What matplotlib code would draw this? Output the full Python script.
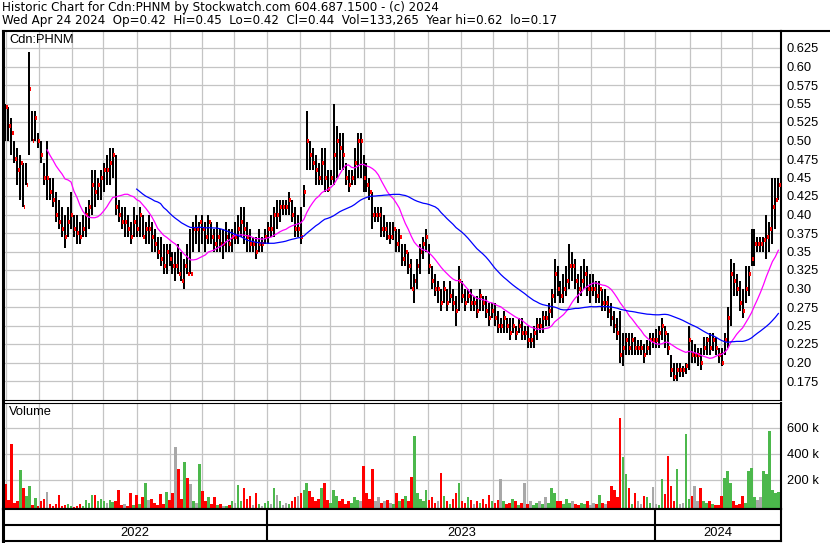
import numpy as np
import pandas as pd
import matplotlib
matplotlib.use("Agg")
import matplotlib.pyplot as plt
from matplotlib.lines import Line2D

plt.rcParams['font.family'] = ['Liberation Sans', 'DejaVu Sans']

# chart window (one sample every second trading day)
start_date = '2022-04-26'
end_date = '2024-04-24'

high = [
    .55, .545, .53, .50, .49, .48, .47, .47, .62, .54,
    .54, .51, .50, .47, .50, .45, .45, .43, .42, .41,
    .40, .41, .43, .40, .40, .39, .40, .41, .42, .46,
    .46, .45, .46, .47, .48, .49, .49, .48, .42, .41,
    .41, .40, .39, .41, .40, .41, .40, .39, .40, .39,
    .38, .37, .37, .36, .36, .36, .35, .35, .36, .35,
    .34, .36, .38, .39, .40, .39, .40, .39, .40, .39,
    .38, .39, .38, .38, .39, .38, .38, .39, .40, .41,
    .41, .39, .38, .37, .37, .38, .37, .38, .39, .40,
    .41, .42, .42, .42, .42, .43, .42, .41, .40, .41,
    .44, .54, .50, .49, .48, .47, .49, .49, .46, .46,
    .55, .52, .51, .51, .47, .46, .46, .49, .51, .51,
    .48, .47, .45, .43, .41, .41, .41, .40, .39, .39,
    .39, .38, .38, .36, .36, .35, .34, .32, .34, .36,
    .37, .38, .36, .33, .32, .31, .30, .31, .30, .31,
    .30, .29, .33, .31, .30, .30, .30, .29, .29, .30,
    .29, .29, .28, .28, .28, .27, .26, .27, .26, .26,
    .26, .25, .26, .26, .25, .25, .24, .25, .26, .26,
    .27, .27, .28, .30, .34, .33, .31, .32, .33, .36,
    .35, .34, .32, .33, .34, .33, .32, .32, .31, .31,
    .30, .30, .29, .28, .27, .26, .27, .24, .24, .24,
    .24, .235, .23, .23, .225, .23, .24, .24, .245, .25,
    .26, .25, .24, .21, .20, .20, .20, .195, .20, .25,
    .23, .225, .22, .22, .235, .235, .24, .24, .235, .22,
    .22, .24, .275, .34, .335, .32, .31, .30, .33, .33,
    .38, .38, .37, .37, .37, .40, .39, .45, .45, .45,
]
low = [
    .50, .50, .48, .47, .44, .42, .41, .44, .48, .50,
    .50, .49, .47, .44, .42, .42, .41, .39, .38, .37,
    .355, .37, .38, .37, .36, .36, .37, .37, .38, .40,
    .41, .42, .42, .43, .44, .44, .45, .40, .39, .38,
    .37, .37, .36, .37, .37, .37, .37, .36, .36, .35,
    .35, .34, .33, .32, .32, .33, .32, .31, .32, .31,
    .30, .32, .32, .35, .36, .35, .36, .35, .36, .36,
    .35, .35, .35, .34, .35, .35, .35, .36, .36, .37,
    .36, .35, .35, .35, .34, .35, .35, .36, .36, .37,
    .37, .38, .39, .40, .40, .40, .39, .37, .37, .36,
    .41, .46, .46, .46, .44, .44, .44, .43, .43, .44,
    .44, .45, .46, .46, .44, .43, .44, .44, .45, .45,
    .43, .43, .42, .38, .39, .39, .37, .37, .365, .36,
    .365, .35, .35, .33, .33, .32, .30, .28, .30, .32,
    .34, .35, .32, .30, .29, .28, .27, .28, .27, .28,
    .27, .25, .27, .28, .27, .28, .27, .27, .26, .27,
    .27, .26, .25, .26, .25, .24, .24, .24, .24, .23,
    .24, .23, .24, .23, .23, .22, .22, .22, .23, .24,
    .24, .25, .25, .26, .28, .29, .28, .28, .29, .30,
    .31, .30, .28, .29, .30, .29, .28, .29, .28, .28,
    .27, .27, .26, .25, .24, .23, .20, .195, .21, .21,
    .21, .21, .21, .21, .20, .21, .21, .22, .22, .22,
    .23, .22, .21, .18, .175, .175, .18, .18, .185, .19,
    .20, .20, .195, .19, .21, .21, .21, .215, .21, .20,
    .195, .21, .22, .25, .29, .29, .27, .26, .28, .29,
    .33, .33, .35, .35, .35, .34, .35, .36, .38, .42,
]
close = [
    .545, .52, .51, .475, .46, .47, .41, .44, .57, .50,
    .53, .50, .48, .45, .45, .43, .42, .40, .39, .38,
    .37, .39, .40, .38, .375, .37, .38, .40, .41, .44,
    .43, .44, .45, .46, .46, .47, .48, .41, .40, .39,
    .39, .38, .37, .39, .38, .40, .37, .38, .38, .37,
    .36, .35, .34, .33, .35, .34, .33, .33, .32, .31,
    .33, .32, .32, .38, .38, .39, .38, .37, .39, .37,
    .36, .37, .36, .36, .37, .36, .37, .37, .38, .39,
    .38, .37, .36, .36, .35, .36, .36, .37, .38, .38,
    .40, .40, .41, .41, .41, .42, .40, .38, .38, .37,
    .43, .50, .48, .47, .46, .45, .47, .45, .435, .45,
    .48, .50, .49, .48, .45, .44, .45, .47, .50, .50,
    .45, .44, .43, .40, .40, .40, .38, .38, .37, .37,
    .38, .36, .37, .34, .35, .33, .30, .31, .33, .35,
    .36, .37, .33, .31, .30, .30, .28, .30, .28, .29,
    .28, .27, .31, .29, .28, .29, .28, .28, .27, .29,
    .28, .27, .26, .27, .26, .25, .25, .26, .25, .24,
    .25, .24, .25, .24, .24, .23, .23, .24, .25, .25,
    .26, .26, .27, .29, .32, .30, .29, .30, .31, .33,
    .33, .31, .30, .31, .32, .30, .30, .30, .29, .30,
    .28, .28, .27, .26, .25, .24, .21, .22, .23, .22,
    .23, .22, .22, .22, .21, .22, .23, .23, .23, .24,
    .25, .24, .22, .19, .18, .19, .19, .19, .195, .23,
    .21, .21, .21, .20, .22, .23, .22, .23, .22, .21,
    .20, .23, .26, .32, .31, .30, .28, .27, .30, .32,
    .34, .36, .36, .36, .365, .37, .38, .41, .42, .44,
]
# volume in thousands of shares
volume = [
    195, 70, 500, 50, 60, 300, 165, 100, 180, 30,
    85, 20, 60, 80, 130, 40, 20, 35, 110, 25,
    30, 40, 25, 15, 20, 40, 25, 70, 50, 110,
    110, 60, 80, 60, 50, 70, 55, 60, 150, 30,
    40, 20, 125, 30, 105, 40, 90, 200, 70, 80,
    50, 30, 115, 40, 130, 70, 125, 480, 305, 80,
    360, 235, 195, 60, 50, 345, 140, 60, 95, 40,
    95, 30, 40, 20, 25, 30, 60, 50, 185, 60,
    160, 80, 100, 30, 120, 40, 20, 50, 60, 40,
    165, 110, 60, 30, 50, 40, 60, 90, 100, 120,
    150, 200, 140, 90, 60, 80, 160, 200, 70, 50,
    150, 100, 60, 80, 40, 60, 50, 90, 70, 60,
    330, 120, 80, 310, 60, 90, 50, 60, 70, 50,
    40, 120, 60, 80, 100, 60, 250, 560, 120, 80,
    60, 150, 70, 90, 50, 60, 280, 100, 60, 40,
    80, 120, 200, 60, 50, 90, 70, 40, 60, 50,
    80, 40, 110, 60, 50, 70, 230, 60, 40, 50,
    80, 60, 30, 50, 200, 40, 60, 30, 50, 60,
    40, 90, 50, 160, 120, 60, 60, 40, 80, 50,
    60, 40, 30, 50, 40, 60, 30, 50, 40, 110,
    50, 40, 60, 180, 150, 95, 700, 400, 270, 160,
    40, 120, 60, 40, 100, 90, 50, 170, 40, 30,
    230, 115, 410, 180, 60, 310, 40, 50, 580, 80,
    100, 180, 60, 160, 60, 50, 60, 40, 30, 30,
    100, 235, 290, 200, 60, 30, 40, 100, 50, 295,
    315, 90, 70, 90, 295, 270, 600, 150, 120, 133,
]

price_ticks = [0.175, 0.20, 0.225, 0.25, 0.275, 0.30, 0.325, 0.35, 0.375, 0.40,
               0.425, 0.45, 0.475, 0.50, 0.525, 0.55, 0.575, 0.60, 0.625]
vol_ticks = [200, 400, 600]
years = ['2022', '2023', '2024']

title1 = "Historic Chart for Cdn:PHNM by Stockwatch.com 604.687.1500 - (c) 2024"
title2 = "Wed Apr 24 2024  Op=0.42  Hi=0.45  Lo=0.42  Cl=0.44  Vol=133,265  Year hi=0.62  lo=0.17"

W, H = 830, 543
fig = plt.figure(figsize=(W / 100, H / 100), dpi=100)
fig.patch.set_facecolor('white')


def px_rect(x0, y0, x1, y1):
    return [x0 / W, 1 - y1 / H, (x1 - x0) / W, (y1 - y0) / H]


def px_line(x0, y0, x1, y1, lw):
    fig.add_artist(Line2D([x0 / W, x1 / W], [1 - y0 / H, 1 - y1 / H],
                          transform=fig.transFigure, color='black', lw=lw))


days = pd.bdate_range(start_date, end_date)
n_days = len(days)
N = len(close)
pos = np.arange(n_days - 1 - 2 * (N - 1), n_days, 2)

i23 = int(np.argmax(days >= pd.Timestamp('2023-01-01')))
i24 = int(np.argmax(days >= pd.Timestamp('2024-01-01')))
b = (656 - 268) / (i24 - i23)
a = 268 - b * i23
xlim = ((3 - a) / b, (781 - a) / b)
month_idx = [i for i in range(1, n_days) if days[i].month != days[i - 1].month]
year_idx = [xlim[0], i23 - 0.5, i24 - 0.5, xlim[1]]

grid_col = '#c4c4c4'

# ---- price panel
ax = fig.add_axes(px_rect(3, 31, 781, 400))
ax.set_xlim(*xlim)
ax.set_ylim(0.175 - 19 / 740, 0.625 + 17 / 740)
for m in month_idx:
    ax.axvline(m - 0.5, color=grid_col, lw=0.9, zorder=0)
for t in price_ticks:
    ax.axhline(t, color=grid_col, lw=0.9, zorder=0)

ax.vlines(pos, low, high, color='black', lw=1.3, antialiased=False, zorder=2)
ax.hlines(close, pos + 0.2, pos + 1.5, color='red', lw=1.6, antialiased=False, zorder=3)

ma_short = pd.Series(close).rolling(15).mean()
ma_long = pd.Series(close).rolling(45).mean()
ax.plot(pos, ma_short, color='#ff00ff', lw=0.9, zorder=4)
ax.plot(pos, ma_long, color='#0000ff', lw=0.9, zorder=4)

ax.yaxis.tick_right()
ax.set_yticks(price_ticks)
labels = []
for t in price_ticks:
    s = f"{t:.3f}"
    if s.endswith('0'):
        s = s[:-1]
    labels.append(s)
ax.set_yticklabels(labels)
ax.tick_params(axis='y', length=0, pad=4, labelsize=9.3)
ax.set_xticks([])
ax.spines['left'].set_linewidth(2.2)
ax.spines['top'].set_linewidth(1.5)
ax.spines['right'].set_linewidth(1.5)
ax.spines['bottom'].set_linewidth(0.8)
ax.text(6 / 778, 1 - 3 / 369, 'Cdn:PHNM', transform=ax.transAxes,
        ha='left', va='top', fontsize=9.3)

# ---- volume panel
axv = fig.add_axes(px_rect(3, 403, 781, 509))
axv.set_xlim(*xlim)
axv.set_ylim(-3 * 200 / 26, (506 - 403) * 200 / 26)
for m in month_idx:
    axv.axvline(m - 0.5, color=grid_col, lw=0.9, zorder=0)
for t in vol_ticks:
    axv.axhline(t, color=grid_col, lw=0.9, zorder=0)
chg = np.diff(np.array(close), prepend=np.inf)
vcol = np.where(chg > 0, '#4cb84c', np.where(chg < 0, '#ff0000', '#a8a8a8'))
axv.bar(pos, volume, width=1.75, bottom=-3 * 200 / 26, color=vcol, zorder=2)
axv.yaxis.tick_right()
axv.set_yticks(vol_ticks)
axv.set_yticklabels([f"{t} k" for t in vol_ticks])
axv.tick_params(axis='y', length=0, pad=4, labelsize=9.3)
axv.set_xticks([])
axv.spines['left'].set_linewidth(2.2)
axv.spines['top'].set_linewidth(0.8)
axv.spines['right'].set_linewidth(1.5)
axv.spines['bottom'].set_linewidth(1.5)
axv.text(6 / 778, 1 - 3 / 106, 'Volume', transform=axv.transAxes,
         ha='left', va='top', fontsize=9.3)

# ---- year band
axy = fig.add_axes(px_rect(3, 509, 781, 541))
axy.set_xlim(*xlim)
axy.set_ylim(0, 2)
axy.axhline(1, color='black', lw=1.5)
for yi in year_idx[1:-1]:
    axy.axvline(yi, color='black', lw=1.5)
for k, yr in enumerate(years):
    axy.text((year_idx[k] + year_idx[k + 1]) / 2, 0.5, yr,
             ha='center', va='center', fontsize=9.3)
axy.set_xticks([])
axy.set_yticks([])
for s in axy.spines.values():
    s.set_linewidth(1.5)
axy.spines['left'].set_linewidth(2.2)

px_line(781, 31, 830, 31, 1.5)

title_font = ['DejaVu Sans']
fig.text(2 / W, 1 - 1 / H, title1, ha='left', va='top', fontsize=8.6, family=title_font)
fig.text(2 / W, 1 - 14 / H, title2, ha='left', va='top', fontsize=8.6, family=title_font)

fig.savefig('out.png', dpi=100)
